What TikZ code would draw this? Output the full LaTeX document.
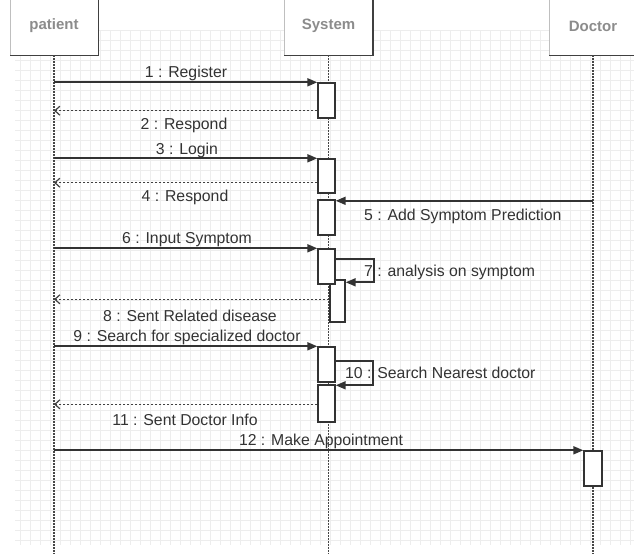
\documentclass[tikz,border=0pt]{standalone}
\usepackage{fontspec}
\setmainfont{Liberation Sans}
\usetikzlibrary{arrows.meta,calc}
\tikzset{
  gridline/.style={draw=black!7, line width=0.4pt},
  header/.style={rectangle, draw=black!25, line width=0.6pt, fill=white, minimum width=88pt, minimum height=58pt, inner sep=0pt, text=black!45, font=\bfseries\fontsize{15}{17}\selectfont},
  hshadow/.style={draw=black!75, line width=1.6pt},
  life/.style={draw=black!72, line width=1.6pt, dash pattern=on 1.5pt off 1.5pt},
  actbox/.style={rectangle, draw=black!80, fill=white, line width=1.4pt, inner sep=0pt, minimum width=17pt},
  msg/.style={draw=black!80, line width=1.8pt, -{Triangle[length=10pt,width=8pt]}},
  ret/.style={draw=black!75, line width=1.3pt, dash pattern=on 2pt off 2pt, -{Straight Barb[length=5pt,width=9pt,line width=1.2pt]}},
  lbl/.style={text=black!80, font=\fontsize{15.8}{18}\selectfont, inner sep=0pt, anchor=base}
}
\begin{document}
\begin{tikzpicture}[x=1pt,y=-1pt]
\fill[white] (0,0) rectangle (634,554);
\useasboundingbox (0,0) rectangle (634,554);
% background grid
\foreach \gx in {20,30,...,630} {\draw[gridline] (\gx,30) -- (\gx,545);}
\foreach \gy in {30,40,...,540} {\draw[gridline] (15,\gy) -- (634,\gy);}
% headers
\node[header] (pat) at (54,26) {patient};
\node[header] (sys) at (328.5,26) {System};
\node[header] (doc) at (593,26) {Doctor};
\foreach \h in {pat,sys,doc}{
  \draw[hshadow] (\h.north east) -- (\h.south east) -- (\h.south west);
}
\coordinate (bot) at (0,554);
% lifelines
\draw[life] (pat.south) -- (pat.south |- bot);
\draw[life] (sys.south) -- (sys.south |- bot);
\draw[life] (doc.south) -- (doc.south |- bot);
% activation boxes
\node[actbox, minimum height=35pt] (A1) at (326.5,100.5) {};
\node[actbox, minimum height=34pt] (A2) at (326.5,176) {};
\node[actbox, minimum height=35pt] (A3) at (326.5,217.5) {};
\node[actbox, minimum width=15pt, minimum height=42pt] (A7) at (337.5,301) {};
\node[actbox, minimum height=35pt] (A4) at (326.5,266.5) {};
\node[actbox, minimum height=35pt] (A5) at (326.5,364.5) {};
\node[actbox, minimum height=37pt] (A6) at (326.5,403.5) {};
\node[actbox, minimum width=18pt, minimum height=35pt] (AD) at (593,468.5) {};
% messages
\draw[msg] (pat |- A1.north) -- (A1.north west);
\node[lbl] (l1) at (186,77) {1 : Register};
\draw[ret] ([yshift=8pt]A1.south west) coordinate (r2) -- (pat |- r2);
\node[lbl] (l2) at (184,129) {2 : Respond};
\draw[msg] (pat |- A2.north) -- (A2.north west);
\node[lbl] (l3) at (187,154) {3 : Login};
\draw[ret] ([yshift=11pt]A2.south west) coordinate (r4) -- (pat |- r4);
\node[lbl] (l4) at (185,201) {4 : Respond};
\coordinate (m5) at ([yshift=-1.5pt]A3.north east);
\draw[msg] (doc |- m5) -- (m5);
\node[lbl, anchor=base west] (l5) at (364,220) {5 : Add Symptom Prediction};
\draw[msg] (pat |- A4.north) -- (A4.north west);
\node[lbl] (l6) at (187,243) {6 : Input Symptom};
\draw[msg] ([yshift=-11pt]A4.north east) -- ++(38,0) |- ([yshift=-3pt]A7.north east);
\node[lbl, anchor=base west] (l7) at (364,276) {7 : analysis on symptom};
\draw[ret] ([yshift=-20pt]A7.north west) coordinate (r8) -- (pat |- r8);
\node[lbl] (l8) at (190,321) {8 : Sent Related disease};
\draw[msg] (pat |- A5.north) -- (A5.north west);
\node[lbl] (l9) at (187,341) {9 : Search for specialized doctor};
\draw[msg] ([yshift=-15pt]A5.north east) -- ++(37,0) |- ([yshift=-1pt]A6.north east);
\node[lbl, anchor=base west] (l10) at (345,378) {10 : Search Nearest doctor};
\draw[ret] ([yshift=-20pt]A6.north west) coordinate (r11) -- (pat |- r11);
\node[lbl] (l11) at (185,425) {11 : Sent Doctor Info};
\draw[msg] (pat |- AD.north) -- (AD.north west);
\node[lbl] (l12) at (321,445) {12 : Make Appointment};
\end{tikzpicture}
\end{document}
